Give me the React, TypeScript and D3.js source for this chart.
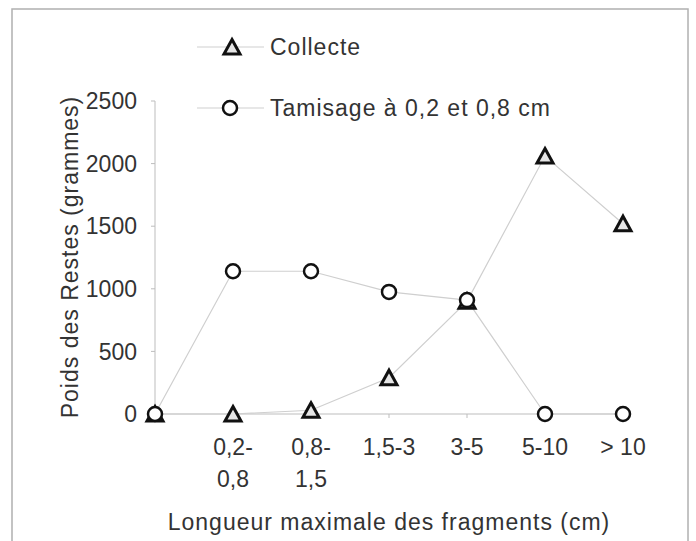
import React from "react";
import * as d3 from "d3";

const categories = ["", "0,2-\n0,8", "0,8-\n1,5", "1,5-3", "3-5", "5-10", "> 10"];
const collecte = [0, 0, 30, 290, 900, 2060, 1520];
const tamisage = [0, 1140, 1140, 975, 910, 0, 0];
const yTicks = [0, 500, 1000, 1500, 2000, 2500];
const seriesNames = ["Collecte", "Tamisage à 0,2 et 0,8 cm"];

const W = 696;
const H = 541;
const FONT = "'Liberation Sans', Arial, sans-serif";
const TXT = "#333";
const AX = "#bdbdbd";

const tri = "M0,-7.5L8,7L-8,7Z";

export default function App() {
  const x = d3
    .scalePoint<number>()
    .domain(categories.map((_, i) => i))
    .range([155, 623]);
  const y = d3.scaleLinear().domain([0, 2500]).range([414, 101]);
  const line = d3
    .line<number>()
    .x((_, i) => x(i) as number)
    .y((d) => y(d));

  return (
    <svg
      width={W}
      height={H}
      style={{ position: "absolute", left: 0, top: 0, background: "#fff" }}
      fontFamily={FONT}
    >
      <rect x={0} y={0} width={W} height={H} fill="#fff" />
      <rect x={12} y={9} width={676} height={560} fill="none" stroke="#b0b0b0" strokeWidth={1.5} />

      {/* axes */}
      <line x1={155} x2={155} y1={y(2500)} y2={y(0)} stroke={AX} strokeWidth={1} />
      <line x1={x(0)} x2={x(categories.length - 1)} y1={y(0)} y2={y(0)} stroke={AX} strokeWidth={1} />
      {yTicks.map((t) => (
        <g key={t}>
          <line x1={151} x2={155} y1={y(t)} y2={y(t)} stroke={AX} />
          <text
            x={137}
            y={y(t)}
            dy="0.36em"
            textAnchor="end"
            fontSize={23}
            fill={TXT}
          >
            {t}
          </text>
        </g>
      ))}
      {categories.map((c, i) => (
        <g key={i}>
          <line x1={x(i)} x2={x(i)} y1={y(0)} y2={y(0) + 4} stroke={AX} />
          {c.split("\n").map((ln, j) => (
            <text
              key={j}
              x={x(i)}
              y={455 + j * 32}
              textAnchor="middle"
              fontSize={23}
              fill={TXT}
            >
              {ln}
            </text>
          ))}
        </g>
      ))}

      {/* titles */}
      <text
        x={389}
        y={530}
        textAnchor="middle"
        fontSize={23}
        letterSpacing={1}
        fill={TXT}
      >
        Longueur maximale des fragments (cm)
      </text>
      <text
        transform="translate(78,257) rotate(-90)"
        textAnchor="middle"
        fontSize={23}
        letterSpacing={1}
        fill={TXT}
      >
        Poids des Restes (grammes)
      </text>

      {/* lines */}
      <path d={line(collecte) || ""} fill="none" stroke="#cfcfcf" strokeWidth={1.2} />
      <path d={line(tamisage) || ""} fill="none" stroke="#cfcfcf" strokeWidth={1.2} />

      {/* markers */}
      {collecte.map((v, i) => (
        <path
          key={"c" + i}
          d={tri}
          transform={`translate(${x(i)},${y(v)})`}
          fill="#e6e6e6"
          stroke="#111"
          strokeWidth={3}
          strokeLinejoin="miter"
        />
      ))}
      {tamisage.map((v, i) => (
        <circle
          key={"t" + i}
          cx={x(i)}
          cy={y(v)}
          r={7}
          fill="#fff"
          stroke="#111"
          strokeWidth={2.5}
        />
      ))}

      {/* legend */}
      <g>
        <line x1={197} x2={264} y1={47} y2={47} stroke="#cfcfcf" strokeWidth={1.2} />
        <path d={tri} transform="translate(232,47)" fill="#e6e6e6" stroke="#111" strokeWidth={3} />
        <text x={270} y={47} dy="0.36em" fontSize={23} letterSpacing={1} fill={TXT}>
          {seriesNames[0]}
        </text>
        <line x1={197} x2={264} y1={108} y2={108} stroke="#cfcfcf" strokeWidth={1.2} />
        <circle cx={230} cy={108} r={7} fill="#fff" stroke="#111" strokeWidth={2.5} />
        <text x={270} y={108} dy="0.36em" fontSize={23} letterSpacing={1} fill={TXT}>
          {seriesNames[1]}
        </text>
      </g>
    </svg>
  );
}
